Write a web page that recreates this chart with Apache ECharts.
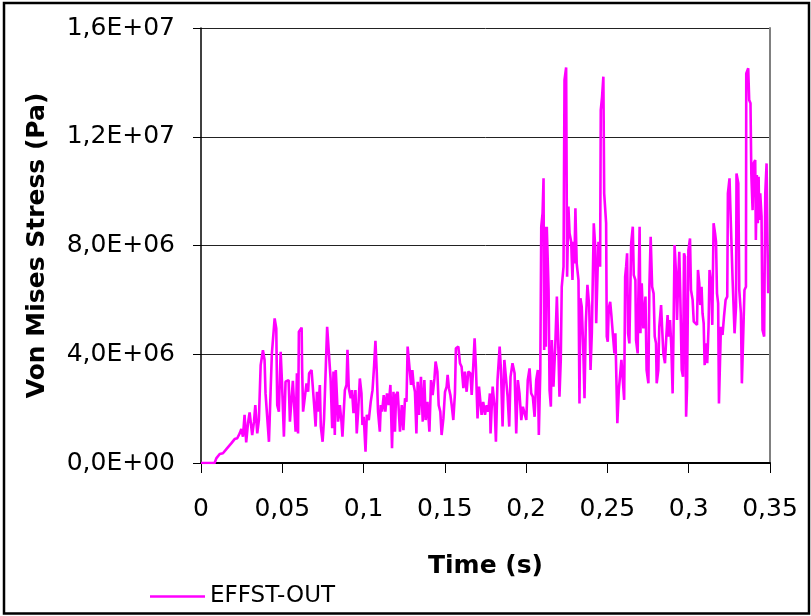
<!DOCTYPE html>
<html>
<head>
<meta charset="utf-8">
<script src="https://cdn.jsdelivr.net/npm/echarts@6/dist/echarts.min.js"></script>
<style>
html,body{margin:0;padding:0;background:#fff;}
#chart{width:811px;height:616px;}
</style>
</head>
<body>
<div id="chart"></div>
<script>
// ---- DATA (time in s, Von Mises stress in MPa = 1E+06 Pa) ----
var seriesName = "EFFST-OUT";
var xTitle = "Time (s)";
var yTitle = "Von Mises Stress (Pa)";
var xMin = 0, xMax = 0.35, xStep = 0.05;
var yMin = 0, yMax = 1.6e7, yStep = 4e6;

var timeA = [0,0.0084,0.0094,0.0115,0.0135,0.0156,0.0186,0.0207,0.0223,0.0238,0.0248,0.0258,0.0268,0.0278,0.0289,0.0299,0.0309,0.0315,0.0326,0.0334,0.0346,0.0356,0.0367,0.0381,0.0391,0.0397,0.0418,0.0428,0.0436,0.0448,0.0453,0.0463,0.0469,0.0479,0.0490,0.0498,0.0510,0.0520,0.0539,0.0547,0.0565,0.0582,0.0590,0.0597];
var stressA = [0,0,0.17,0.33,0.36,0.51,0.72,0.88,0.91,1.09,1.25,0.97,1.77,0.76,1.46,1.86,1.86,1.03,1.52,2.13,1.09,1.58,3.6,4.15,3.79,2.56,0.78,2.62,4.03,4.03,5.32,4.95,2.13,1.89,4.09,2.99,0.97,2.99,3.05,1.52,3.02,1.15,3.3,1.09];

var timeB = [0.0602,0.0619,0.0622,0.0628,0.0639,0.0649,0.0659,0.0665,0.0680,0.0690,0.0696,0.0705,0.0713,0.0721,0.0731,0.0737,0.0748,0.0757,0.0768,0.0776,0.0788,0.0797,0.0807,0.0815,0.0823,0.0829,0.0837,0.0843,0.0854,0.0864,0.0870,0.0885,0.0895,0.0901,0.0909,0.0921,0.0929,0.0938,0.0950,0.0958,0.0966,0.0977,0.0987,0.0993,0.1001,0.1012,0.1020,0.1032,0.1044,0.1055,0.1065,0.1073,0.1081,0.1089,0.1100,0.1106,0.1114,0.1124,0.1134,0.1144,0.1155,0.1165,0.1175];
var stressB = [4.83,4.98,3.48,1.89,1.89,2.93,2.62,3.3,3.42,3.36,2.13,1.34,2.62,1.89,2.87,1.34,0.78,1.64,3.6,5.01,5.05,3.11,1.28,3.36,1.03,3.42,3.48,1.52,2.13,1.52,0.97,2.68,2.87,4.16,2.75,2.38,2.68,1.83,2.68,1.09,1.83,3.11,2.56,1.40,1.70,0.42,1.77,1.58,2.25,2.68,3.6,4.49,3.36,1.89,1.15,2.13,1.89,2.50,1.89,2.56,2.13,2.87,0.54];

var timeC = [0.1184,0.1193,0.1200,0.1210,0.1218,0.1224,0.1235,0.1245,0.1255,0.1264,0.1271,0.1282,0.1292,0.1300,0.1308,0.1316,0.1325,0.1333,0.1341,0.1353,0.1364,0.1374,0.1382,0.1393,0.1405,0.1415,0.1425,0.1436,0.1443,0.1454,0.1462,0.1472,0.1480,0.1491,0.1501,0.1511,0.1517,0.1525,0.1534,0.1542,0.1552,0.1562,0.1568,0.1583,0.1593,0.1603,0.1614,0.1623,0.1634,0.1644,0.1657,0.1665,0.1675,0.1683,0.1691,0.1701,0.1710,0.1720,0.1726,0.1736,0.1747,0.1757,0.1767,0.1777];
var stressC = [2.62,1.15,2.50,2.62,1.77,1.15,2.13,1.21,2.38,2.25,4.28,4.22,2.87,3.42,2.87,2.62,1.09,2.99,1.77,3.17,1.52,3.05,1.58,2.25,1.15,3.05,2.50,3.11,3.73,3.36,2.13,1.89,1.03,1.64,2.62,2.81,3.24,2.75,2.50,2.13,1.58,2.56,4.22,4.28,3.67,3.54,2.75,3.36,2.62,3.36,3.30,2.50,3.6,4.59,3.54,1.64,2.81,2.75,1.77,2.25,1.77,2.13,1.89,2.56];

var timeD = [0.1781,0.1794,0.1806,0.1814,0.1824,0.1837,0.1845,0.1855,0.1866,0.1878,0.1886,0.1896,0.1904,0.1916,0.1929,0.1939,0.1949,0.1959,0.1970,0.1980,0.1990,0.2001,0.2010,0.2021,0.2031,0.2041,0.2052,0.2062,0.2072,0.2078,0.2087,0.2093,0.2101,0.2107,0.2111,0.2117,0.2121,0.2127,0.2138,0.2144,0.2152,0.2158,0.2168,0.2179,0.2189,0.2199,0.2205,0.2213,0.2219,0.2230,0.2236,0.2246,0.2252,0.2260,0.2267,0.2277,0.2285,0.2291,0.2297,0.2303,0.2311,0.2322,0.2328,0.2334,0.2342,0.2351,0.2359,0.2367,0.2377];
var stressD = [1.09,2.81,2.07,0.78,3.05,4.28,3.42,1.34,3.79,3.79,2.44,1.34,3.17,3.67,3.30,1.09,3.05,2.56,1.58,2.07,2.07,1.58,3.05,3.48,2.56,2.44,1.70,3.05,3.42,1.03,3.36,8.69,9.18,10.47,4.16,8.69,4.28,8.69,6.36,2.68,2.07,4.52,2.81,4.28,6.12,4.03,2.44,3.79,6.48,7.22,14.09,14.55,6.85,9.43,8.45,8.14,6.73,8.14,7.34,9.37,7.34,6.73,2.19,6.06,5.75,4.28,2.38,5.14,6.55];

var timeE = [0.2388,0.2396,0.2404,0.2416,0.2425,0.2431,0.2439,0.2445,0.2455,0.2459,0.2467,0.2475,0.2480,0.2492,0.2496,0.2502,0.2508,0.2517,0.2525,0.2533,0.2543,0.2549,0.2557,0.2561,0.2570,0.2580,0.2586,0.2596,0.2603,0.2609,0.2615,0.2621,0.2627,0.2635,0.2646,0.2656,0.2662,0.2672,0.2676,0.2686,0.2690,0.2698,0.2703,0.2711,0.2721,0.2734,0.2741,0.2752,0.2758,0.2766,0.2775];
var stressE = [5.75,3.42,4.77,8.82,7.96,5.14,6.97,8.14,7.22,12.98,13.47,14.21,9.92,8.82,4.65,4.46,5.69,5.93,5.38,4.77,4.03,4.77,4.83,1.46,2.68,2.68,3.79,3.79,2.32,6.85,7.22,7.71,4.77,4.40,8.08,8.69,6.91,6.73,4.52,4.03,6.0,8.69,4.77,6.61,4.95,6.12,3.42,2.93,6.48,8.32,6.48];

var timeF = [0.2784,0.2791,0.2799,0.2803,0.2813,0.2819,0.2830,0.2836,0.2844,0.2854,0.2861,0.2870,0.2877,0.2885,0.2893,0.2901,0.2907,0.2913,0.2922,0.2928,0.2934,0.2942,0.2948,0.2957,0.2965,0.2971,0.2977,0.2984,0.2990,0.2998,0.3008,0.3014,0.3024,0.3031,0.3039,0.3051,0.3057,0.3065,0.3071,0.3079,0.3085,0.3092,0.3098,0.3106,0.3114,0.3122,0.3128,0.3139,0.3145,0.3153,0.3162,0.3168,0.3174,0.3181,0.3186,0.3196,0.3198,0.3208,0.3217,0.3227,0.3237,0.3241,0.3251,0.3256,0.3266,0.3270,0.3282,0.3291,0.3294,0.3305,0.3311,0.3321,0.3327,0.3337,0.3343,0.3352,0.3354,0.3366,0.3372,0.3380,0.3385,0.3393,0.3399,0.3409,0.3413,0.3419,0.3425,0.3430,0.3434,0.3440,0.3448,0.3454,0.3464,0.3471,0.3479,0.3485,0.3489];
var stressF = [6.24,4.65,4.40,2.93,3.42,5.01,5.81,5.01,4.03,3.67,4.52,5.44,4.65,5.26,4.28,2.56,5.01,8.02,6.97,5.26,6.48,7.77,6.24,3.42,3.17,7.71,7.59,1.70,2.81,7.83,8.26,6.36,6.0,5.20,5.14,5.08,7.10,6.61,5.81,6.48,5.50,5.14,3.60,4.40,3.67,5.01,7.10,6.48,5.08,8.82,8.45,8.14,6.24,5.87,2.19,2.19,5.01,4.71,5.38,6.0,6.12,9.92,10.47,9.43,9.43,6.73,4.77,5.75,10.65,10.29,6.36,5.50,2.93,2.87,6.36,6.48,14.33,14.52,13.35,13.23,10.65,9.30,11.02,11.14,8.20,10.59,8.82,10.53,8.94,9.92,9.06,4.89,4.65,9.92,11.02,7.96,6.24];

// ---- build ----
var timeS = [].concat(timeA, timeB, timeC, timeD, timeE, timeF);
var stressMPa = [].concat(stressA, stressB, stressC, stressD, stressE, stressF);
var seriesData = [];
for (var i = 0; i < Math.min(timeS.length, stressMPa.length); i++) {
  seriesData.push([timeS[i], stressMPa[i] * 1e6]);
}

function fmtX(v) {
  return String(+v.toFixed(2)).replace('.', ',');
}
function fmtY(v) {
  if (v === 0) return '0,0E+00';
  var e = Math.floor(Math.log10(v) + 1e-9);
  var m = v / Math.pow(10, e);
  return m.toFixed(1).replace('.', ',') + 'E+' + (e < 10 ? '0' : '') + e;
}

var FONT = 'DejaVu Sans';
var chart = echarts.init(document.getElementById('chart'), null, {renderer: 'canvas'});
chart.setOption({
  animation: false,
  backgroundColor: '#ffffff',
  grid: {left: 201, top: 28, right: 41, bottom: 153, containLabel: false},
  legend: {
    show: true,
    left: 150, top: 580, padding: [5, 0, 5, 0],
    itemWidth: 55, itemHeight: 2.5, itemGap: 10,
    textStyle: {fontFamily: FONT, fontSize: 23, color: '#000'},
    data: [{name: seriesName, icon: 'rect'}]
  },
  xAxis: {
    type: 'value', min: xMin, max: xMax, interval: xStep,
    name: xTitle, nameLocation: 'middle', nameGap: 91,
    nameTextStyle: {fontFamily: FONT, fontSize: 25, fontWeight: 'bold', color: '#000'},
    axisLine: {show: true, onZero: false, lineStyle: {color: '#000', width: 2}},
    axisTick: {show: true, inside: false, length: 10, lineStyle: {color: '#000', width: 1}},
    axisLabel: {show: true, margin: 34, formatter: fmtX, fontFamily: FONT, fontSize: 25, color: '#000'},
    splitLine: {show: false}
  },
  yAxis: [{
    type: 'value', min: yMin, max: yMax, interval: yStep,
    name: yTitle, nameLocation: 'middle', nameGap: 151, nameRotate: 90,
    nameTextStyle: {fontFamily: FONT, fontSize: 25, fontWeight: 'bold', color: '#000'},
    axisLine: {show: true, lineStyle: {color: '#000', width: 1.5}},
    axisTick: {show: true, inside: false, length: 8, lineStyle: {color: '#000', width: 1}},
    axisLabel: {show: true, margin: 26, formatter: fmtY, fontFamily: FONT, fontSize: 25, color: '#000'},
    splitLine: {show: true, lineStyle: {color: '#222', width: 1}}
  }, {
    type: 'value', min: yMin, max: yMax, interval: yStep, position: 'right',
    axisLine: {show: true, lineStyle: {color: '#808080', width: 2}},
    axisTick: {show: false}, axisLabel: {show: false}, splitLine: {show: false}
  }],
  series: [{
    name: seriesName, type: 'line', xAxisIndex: 0, yAxisIndex: 0,
    data: seriesData, symbol: 'none', showSymbol: false, smooth: false,
    lineStyle: {color: '#FF00FF', width: 2.6},
    itemStyle: {color: '#FF00FF'}
  }],
  graphic: [{
    type: 'rect', silent: true, z: 100,
    shape: {x: 4, y: 3, width: 805, height: 610.5},
    style: {fill: 'none', stroke: '#000', lineWidth: 2.5}
  }]
});
</script>
</body>
</html>
